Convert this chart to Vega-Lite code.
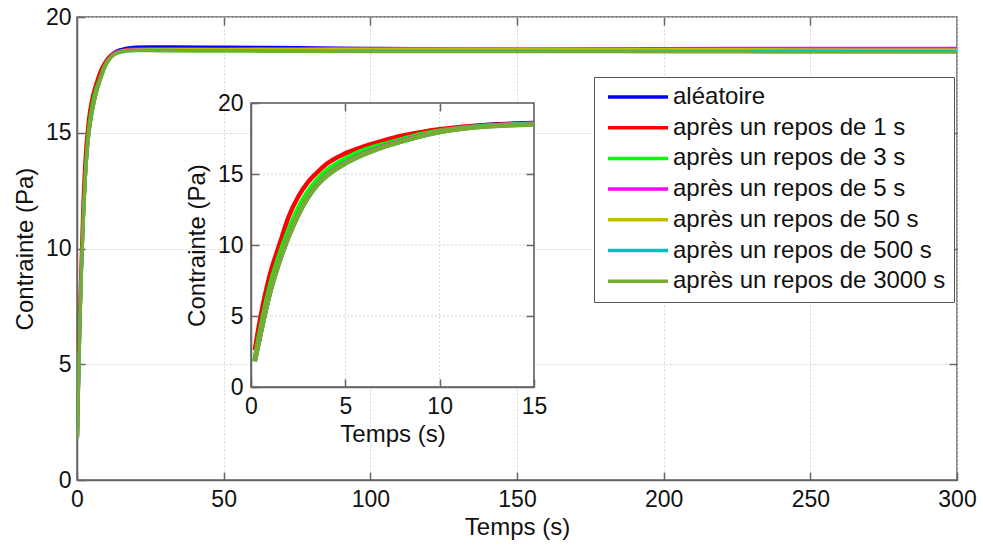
{
"$schema": "https://vega.github.io/schema/vega-lite/v6.json",
"width": 880, "height": 463,
"autosize": "none",
"padding": {"left": 77, "top": 17, "right": 26, "bottom": 65},
"background": "white",
"config": {
  "font": "Liberation Sans",
  "view": {"stroke": "#666666", "strokeWidth": 1.5},
  "axis": {"labelFont": "Liberation Sans", "labelFontSize": 23, "labelColor": "#111111", "titleFont": "Liberation Sans", "titleFontSize": 24, "titleFontWeight": "normal", "titleColor": "#111111", "domainColor": "#666666", "domainWidth": 1.5, "tickColor": "#666666", "tickWidth": 1.5, "tickSize": -8, "gridColor": "#d4d4d4", "gridDash": [2, 2], "gridWidth": 1, "labelFlush": false}
},
"datasets": {
  "curves": [
{"t":0.2,"s":"aléatoire","v":1.9},{"t":0.5,"s":"aléatoire","v":3.8},{"t":1,"s":"aléatoire","v":6.7},{"t":1.5,"s":"aléatoire","v":8.9},{"t":2,"s":"aléatoire","v":10.7},{"t":2.5,"s":"aléatoire","v":12.2},{"t":3,"s":"aléatoire","v":13.4},{"t":3.5,"s":"aléatoire","v":14.3},{"t":4,"s":"aléatoire","v":14.95},{"t":5,"s":"aléatoire","v":15.85},{"t":6,"s":"aléatoire","v":16.5},{"t":7,"s":"aléatoire","v":17.0},{"t":8,"s":"aléatoire","v":17.4},{"t":9,"s":"aléatoire","v":17.75},{"t":10,"s":"aléatoire","v":18.05},{"t":11,"s":"aléatoire","v":18.25},{"t":12,"s":"aléatoire","v":18.4},{"t":13,"s":"aléatoire","v":18.5},{"t":14,"s":"aléatoire","v":18.56},{"t":15,"s":"aléatoire","v":18.6},{"t":17,"s":"aléatoire","v":18.66},{"t":20,"s":"aléatoire","v":18.7},{"t":25,"s":"aléatoire","v":18.72},{"t":30,"s":"aléatoire","v":18.72},{"t":50,"s":"aléatoire","v":18.7},{"t":75,"s":"aléatoire","v":18.68},{"t":100,"s":"aléatoire","v":18.65},{"t":150,"s":"aléatoire","v":18.6},{"t":200,"s":"aléatoire","v":18.58},{"t":250,"s":"aléatoire","v":18.57},{"t":300,"s":"aléatoire","v":18.56},
{"t":0.2,"s":"après un repos de 1 s","v":2.6},{"t":0.5,"s":"après un repos de 1 s","v":4.9},{"t":1,"s":"après un repos de 1 s","v":7.9},{"t":1.5,"s":"après un repos de 1 s","v":10.0},{"t":2,"s":"après un repos de 1 s","v":12.0},{"t":2.5,"s":"après un repos de 1 s","v":13.4},{"t":3,"s":"après un repos de 1 s","v":14.4},{"t":3.5,"s":"après un repos de 1 s","v":15.1},{"t":4,"s":"après un repos de 1 s","v":15.7},{"t":5,"s":"après un repos de 1 s","v":16.45},{"t":6,"s":"après un repos de 1 s","v":16.95},{"t":7,"s":"après un repos de 1 s","v":17.35},{"t":8,"s":"après un repos de 1 s","v":17.7},{"t":9,"s":"après un repos de 1 s","v":17.95},{"t":10,"s":"après un repos de 1 s","v":18.15},{"t":11,"s":"après un repos de 1 s","v":18.3},{"t":12,"s":"après un repos de 1 s","v":18.4},{"t":13,"s":"après un repos de 1 s","v":18.47},{"t":14,"s":"après un repos de 1 s","v":18.52},{"t":15,"s":"après un repos de 1 s","v":18.56},{"t":17,"s":"après un repos de 1 s","v":18.6},{"t":20,"s":"après un repos de 1 s","v":18.63},{"t":25,"s":"après un repos de 1 s","v":18.64},{"t":30,"s":"après un repos de 1 s","v":18.64},{"t":50,"s":"après un repos de 1 s","v":18.62},{"t":75,"s":"après un repos de 1 s","v":18.6},{"t":100,"s":"après un repos de 1 s","v":18.6},{"t":150,"s":"après un repos de 1 s","v":18.58},{"t":200,"s":"après un repos de 1 s","v":18.57},{"t":250,"s":"après un repos de 1 s","v":18.57},{"t":300,"s":"après un repos de 1 s","v":18.56},
{"t":0.2,"s":"après un repos de 3 s","v":2.0},{"t":0.5,"s":"après un repos de 3 s","v":4.1},{"t":1,"s":"après un repos de 3 s","v":7.1},{"t":1.5,"s":"après un repos de 3 s","v":9.3},{"t":2,"s":"après un repos de 3 s","v":11.1},{"t":2.5,"s":"après un repos de 3 s","v":12.6},{"t":3,"s":"après un repos de 3 s","v":13.75},{"t":3.5,"s":"après un repos de 3 s","v":14.6},{"t":4,"s":"après un repos de 3 s","v":15.25},{"t":5,"s":"après un repos de 3 s","v":16.1},{"t":6,"s":"après un repos de 3 s","v":16.7},{"t":7,"s":"après un repos de 3 s","v":17.1},{"t":8,"s":"après un repos de 3 s","v":17.45},{"t":9,"s":"après un repos de 3 s","v":17.8},{"t":10,"s":"après un repos de 3 s","v":18.05},{"t":11,"s":"après un repos de 3 s","v":18.22},{"t":12,"s":"après un repos de 3 s","v":18.34},{"t":13,"s":"après un repos de 3 s","v":18.42},{"t":14,"s":"après un repos de 3 s","v":18.48},{"t":15,"s":"après un repos de 3 s","v":18.52},{"t":17,"s":"après un repos de 3 s","v":18.56},{"t":20,"s":"après un repos de 3 s","v":18.58},{"t":25,"s":"après un repos de 3 s","v":18.58},{"t":30,"s":"après un repos de 3 s","v":18.58},{"t":50,"s":"après un repos de 3 s","v":18.57},{"t":75,"s":"après un repos de 3 s","v":18.56},{"t":100,"s":"après un repos de 3 s","v":18.56},{"t":150,"s":"après un repos de 3 s","v":18.55},{"t":200,"s":"après un repos de 3 s","v":18.55},{"t":250,"s":"après un repos de 3 s","v":18.54},{"t":300,"s":"après un repos de 3 s","v":18.54},
{"t":0.2,"s":"après un repos de 5 s","v":1.85},{"t":0.5,"s":"après un repos de 5 s","v":3.75},{"t":1,"s":"après un repos de 5 s","v":6.65},{"t":1.5,"s":"après un repos de 5 s","v":8.85},{"t":2,"s":"après un repos de 5 s","v":10.65},{"t":2.5,"s":"après un repos de 5 s","v":12.15},{"t":3,"s":"après un repos de 5 s","v":13.35},{"t":3.5,"s":"après un repos de 5 s","v":14.25},{"t":4,"s":"après un repos de 5 s","v":14.9},{"t":5,"s":"après un repos de 5 s","v":15.8},{"t":6,"s":"après un repos de 5 s","v":16.45},{"t":7,"s":"après un repos de 5 s","v":16.95},{"t":8,"s":"après un repos de 5 s","v":17.35},{"t":9,"s":"après un repos de 5 s","v":17.7},{"t":10,"s":"après un repos de 5 s","v":18.0},{"t":11,"s":"après un repos de 5 s","v":18.2},{"t":12,"s":"après un repos de 5 s","v":18.35},{"t":13,"s":"après un repos de 5 s","v":18.44},{"t":14,"s":"après un repos de 5 s","v":18.5},{"t":15,"s":"après un repos de 5 s","v":18.54},{"t":17,"s":"après un repos de 5 s","v":18.58},{"t":20,"s":"après un repos de 5 s","v":18.6},{"t":25,"s":"après un repos de 5 s","v":18.61},{"t":30,"s":"après un repos de 5 s","v":18.61},{"t":50,"s":"après un repos de 5 s","v":18.61},{"t":75,"s":"après un repos de 5 s","v":18.62},{"t":100,"s":"après un repos de 5 s","v":18.62},{"t":150,"s":"après un repos de 5 s","v":18.63},{"t":200,"s":"après un repos de 5 s","v":18.64},{"t":250,"s":"après un repos de 5 s","v":18.65},{"t":300,"s":"après un repos de 5 s","v":18.65},
{"t":0.2,"s":"après un repos de 50 s","v":1.85},{"t":0.5,"s":"après un repos de 50 s","v":3.7},{"t":1,"s":"après un repos de 50 s","v":6.6},{"t":1.5,"s":"après un repos de 50 s","v":8.8},{"t":2,"s":"après un repos de 50 s","v":10.6},{"t":2.5,"s":"après un repos de 50 s","v":12.1},{"t":3,"s":"après un repos de 50 s","v":13.3},{"t":3.5,"s":"après un repos de 50 s","v":14.2},{"t":4,"s":"après un repos de 50 s","v":14.85},{"t":5,"s":"après un repos de 50 s","v":15.75},{"t":6,"s":"après un repos de 50 s","v":16.4},{"t":7,"s":"après un repos de 50 s","v":16.9},{"t":8,"s":"après un repos de 50 s","v":17.3},{"t":9,"s":"après un repos de 50 s","v":17.67},{"t":10,"s":"après un repos de 50 s","v":17.97},{"t":11,"s":"après un repos de 50 s","v":18.18},{"t":12,"s":"après un repos de 50 s","v":18.33},{"t":13,"s":"après un repos de 50 s","v":18.42},{"t":14,"s":"après un repos de 50 s","v":18.48},{"t":15,"s":"après un repos de 50 s","v":18.52},{"t":17,"s":"après un repos de 50 s","v":18.56},{"t":20,"s":"après un repos de 50 s","v":18.58},{"t":25,"s":"après un repos de 50 s","v":18.6},{"t":30,"s":"après un repos de 50 s","v":18.6},{"t":50,"s":"après un repos de 50 s","v":18.6},{"t":75,"s":"après un repos de 50 s","v":18.61},{"t":100,"s":"après un repos de 50 s","v":18.62},{"t":150,"s":"après un repos de 50 s","v":18.61},{"t":200,"s":"après un repos de 50 s","v":18.6},{"t":250,"s":"après un repos de 50 s","v":18.59},{"t":300,"s":"après un repos de 50 s","v":18.58},
{"t":0.2,"s":"après un repos de 500 s","v":1.8},{"t":0.5,"s":"après un repos de 500 s","v":3.7},{"t":1,"s":"après un repos de 500 s","v":6.6},{"t":1.5,"s":"après un repos de 500 s","v":8.8},{"t":2,"s":"après un repos de 500 s","v":10.6},{"t":2.5,"s":"après un repos de 500 s","v":12.1},{"t":3,"s":"après un repos de 500 s","v":13.3},{"t":3.5,"s":"après un repos de 500 s","v":14.2},{"t":4,"s":"après un repos de 500 s","v":14.85},{"t":5,"s":"après un repos de 500 s","v":15.75},{"t":6,"s":"après un repos de 500 s","v":16.4},{"t":7,"s":"après un repos de 500 s","v":16.9},{"t":8,"s":"après un repos de 500 s","v":17.3},{"t":9,"s":"après un repos de 500 s","v":17.65},{"t":10,"s":"après un repos de 500 s","v":17.95},{"t":11,"s":"après un repos de 500 s","v":18.16},{"t":12,"s":"après un repos de 500 s","v":18.31},{"t":13,"s":"après un repos de 500 s","v":18.4},{"t":14,"s":"après un repos de 500 s","v":18.46},{"t":15,"s":"après un repos de 500 s","v":18.5},{"t":17,"s":"après un repos de 500 s","v":18.54},{"t":20,"s":"après un repos de 500 s","v":18.56},{"t":25,"s":"après un repos de 500 s","v":18.56},{"t":30,"s":"après un repos de 500 s","v":18.56},{"t":50,"s":"après un repos de 500 s","v":18.55},{"t":75,"s":"après un repos de 500 s","v":18.54},{"t":100,"s":"après un repos de 500 s","v":18.53},{"t":150,"s":"après un repos de 500 s","v":18.53},{"t":200,"s":"après un repos de 500 s","v":18.52},{"t":250,"s":"après un repos de 500 s","v":18.52},{"t":300,"s":"après un repos de 500 s","v":18.51},
{"t":0.2,"s":"après un repos de 3000 s","v":1.8},{"t":0.5,"s":"après un repos de 3000 s","v":3.7},{"t":1,"s":"après un repos de 3000 s","v":6.6},{"t":1.5,"s":"après un repos de 3000 s","v":8.8},{"t":2,"s":"après un repos de 3000 s","v":10.6},{"t":2.5,"s":"après un repos de 3000 s","v":12.1},{"t":3,"s":"après un repos de 3000 s","v":13.3},{"t":3.5,"s":"après un repos de 3000 s","v":14.2},{"t":4,"s":"après un repos de 3000 s","v":14.85},{"t":5,"s":"après un repos de 3000 s","v":15.75},{"t":6,"s":"après un repos de 3000 s","v":16.4},{"t":7,"s":"après un repos de 3000 s","v":16.9},{"t":8,"s":"après un repos de 3000 s","v":17.3},{"t":9,"s":"après un repos de 3000 s","v":17.65},{"t":10,"s":"après un repos de 3000 s","v":17.95},{"t":11,"s":"après un repos de 3000 s","v":18.15},{"t":12,"s":"après un repos de 3000 s","v":18.3},{"t":13,"s":"après un repos de 3000 s","v":18.38},{"t":14,"s":"après un repos de 3000 s","v":18.44},{"t":15,"s":"après un repos de 3000 s","v":18.48},{"t":17,"s":"après un repos de 3000 s","v":18.52},{"t":20,"s":"après un repos de 3000 s","v":18.54},{"t":25,"s":"après un repos de 3000 s","v":18.54},{"t":30,"s":"après un repos de 3000 s","v":18.53},{"t":50,"s":"après un repos de 3000 s","v":18.52},{"t":75,"s":"après un repos de 3000 s","v":18.51},{"t":100,"s":"après un repos de 3000 s","v":18.5},{"t":150,"s":"après un repos de 3000 s","v":18.5},{"t":200,"s":"après un repos de 3000 s","v":18.49},{"t":250,"s":"après un repos de 3000 s","v":18.48},{"t":300,"s":"après un repos de 3000 s","v":18.48}
  ],
  "gx": [{"g": 5}, {"g": 10}],
  "gy": [{"g": 5}, {"g": 10}, {"g": 15}],
  "box": [{"x0": 0, "x1": 15, "y0": 0, "y1": 20}]
},
"layer": [
  {
    "layer": [
      {
        "data": {"name": "curves"},
        "mark": {"type": "line", "strokeWidth": 3, "clip": true, "interpolate": "monotone"},
        "encoding": {
          "x": {"field": "t", "type": "quantitative", "scale": {"domain": [0, 300], "nice": false}, "axis": {"orient": "bottom", "title": "Temps (s)", "values": [0, 50, 100, 150, 200, 250, 300], "labelPadding": 16, "titlePadding": 4}},
          "y": {"field": "v", "type": "quantitative", "scale": {"domain": [0, 20], "nice": false}, "axis": {"orient": "left", "title": "Contrainte (Pa)", "values": [0, 5, 10, 15, 20], "labelPadding": 14, "titlePadding": 8}},
          "color": {"field": "s", "type": "nominal",
            "scale": {"domain": ["aléatoire", "après un repos de 1 s", "après un repos de 3 s", "après un repos de 5 s", "après un repos de 50 s", "après un repos de 500 s", "après un repos de 3000 s"],
                      "range": ["#0000ff", "#ff0000", "#00ff00", "#ff00ff", "#bfbf00", "#00bfbf", "#77ac30"]},
            "legend": {"title": null, "orient": "none", "legendX": 517, "legendY": 60, "strokeColor": "#555555", "fillColor": "white", "padding": 8, "labelFont": "Liberation Sans", "labelFontSize": 24, "labelColor": "#111111", "symbolType": "M-0.6,0H5.4", "symbolSize": 400, "symbolStrokeWidth": 3.5, "labelOffset": 47, "rowPadding": 6.7, "labelLimit": 400, "zindex": 2}}
        }
      },
      {
        "data": {"name": "curves"},
        "mark": {"type": "point", "opacity": 0},
        "encoding": {
          "x": {"field": "t", "type": "quantitative", "axis": {"orient": "top", "title": null, "values": [50, 100, 150, 200, 250], "labels": false, "domain": false, "grid": false}},
          "y": {"field": "v", "type": "quantitative", "axis": {"orient": "right", "title": null, "values": [5, 10, 15], "labels": false, "domain": false, "grid": false}}
        }
      }
    ],
    "resolve": {"axis": {"x": "independent", "y": "independent"}}
  },
  {
    "layer": [
      {
        "layer": [
          {
            "data": {"name": "box"},
            "mark": {"type": "rect", "fill": "white", "stroke": "#555555", "strokeWidth": 1.5},
            "encoding": {
              "x": {"field": "x0", "type": "quantitative", "title": "Temps (s)", "scale": {"domain": [0, 15], "range": [174, 457], "nice": false}, "axis": {"orient": "bottom", "offset": -93, "values": [0, 5, 10, 15], "format": "d", "grid": false, "zindex": 1, "labelPadding": 16, "titlePadding": 4}},
              "x2": {"field": "x1"},
              "y": {"field": "y0", "type": "quantitative", "title": "Contrainte (Pa)", "scale": {"domain": [0, 20], "range": [370, 86], "nice": false}, "axis": {"orient": "left", "offset": -174, "values": [0, 5, 10, 15, 20], "format": "d", "grid": false, "zindex": 1, "labelPadding": 16, "titlePadding": 8}},
              "y2": {"field": "y1"}
            }
          },
          {
            "data": {"name": "gx"},
            "mark": {"type": "rule", "color": "#d4d4d4", "strokeDash": [2, 2], "strokeWidth": 1},
            "encoding": {
              "x": {"field": "g", "type": "quantitative", "title": "Temps (s)"},
              "y": {"datum": 0, "type": "quantitative", "title": "Contrainte (Pa)"},
              "y2": {"datum": 20}
            }
          },
          {
            "data": {"name": "gy"},
            "mark": {"type": "rule", "color": "#d4d4d4", "strokeDash": [2, 2], "strokeWidth": 1},
            "encoding": {
              "y": {"field": "g", "type": "quantitative", "title": "Contrainte (Pa)"},
              "x": {"datum": 0, "type": "quantitative", "title": "Temps (s)"},
              "x2": {"datum": 15}
            }
          },
          {
            "data": {"name": "curves"},
            "transform": [{"filter": "datum.t <= 15"}],
            "mark": {"type": "line", "strokeWidth": 4.5, "interpolate": "monotone"},
            "encoding": {
              "x": {"field": "t", "type": "quantitative", "title": "Temps (s)"},
              "y": {"field": "v", "type": "quantitative", "title": "Contrainte (Pa)"},
              "color": {"field": "s", "type": "nominal", "legend": null}
            }
          }
        ]
      },
      {
        "data": {"name": "box"},
        "mark": {"type": "point", "opacity": 0},
        "encoding": {
          "x": {"field": "x0", "type": "quantitative", "axis": {"orient": "top", "offset": -86, "title": null, "values": [5, 10], "labels": false, "domain": false, "grid": false, "zindex": 1}},
          "y": {"field": "y0", "type": "quantitative", "axis": {"orient": "right", "offset": -423, "title": null, "values": [5, 10, 15], "labels": false, "domain": false, "grid": false, "zindex": 1}}
        }
      }
    ],
    "resolve": {"axis": {"x": "independent", "y": "independent"}}
  }
],
"resolve": {"scale": {"x": "independent", "y": "independent"}}
}
